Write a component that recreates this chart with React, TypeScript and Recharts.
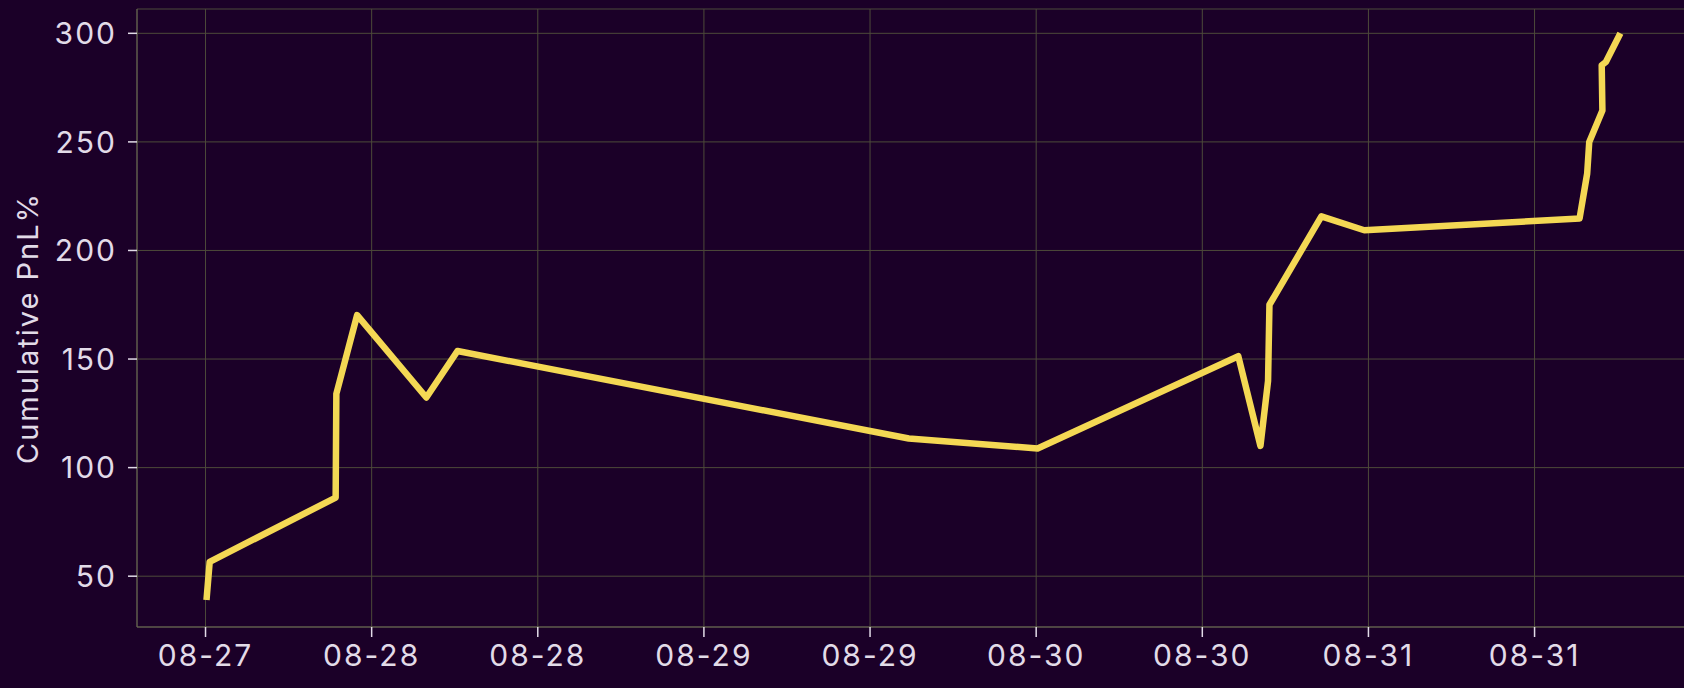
import React from 'react';
import {
  LineChart,
  Line,
  XAxis,
  YAxis,
  CartesianGrid,
} from 'recharts';

// hours counted from 08-27 00:00
const hours = [
  12.07, 12.3, 21.4, 21.45, 22.95, 27.95, 30.2, 62.8, 72.1, 86.6, 88.2, 88.75,
  88.85, 92.6, 95.7, 111.25, 111.8, 111.95, 112.9, 112.85, 113.15, 114.2,
];
const pnl = [
  39, 56.6, 86.2, 134, 170.2, 132.3, 153.7, 113.4, 108.8, 151.3, 110, 140,
  175, 215.7, 209.3, 214.7, 235.4, 250, 264.5, 285.3, 286.8, 300,
];

const tickHours = [12, 24, 36, 48, 60, 72, 84, 96, 108];
const tickLabels = ['08-27', '08-28', '08-28', '08-29', '08-29', '08-30', '08-30', '08-31', '08-31'];
const yTicks = [50, 100, 150, 200, 250, 300];

const data = hours.map((h, i) => ({ h, pnl: pnl[i] }));

const BG = '#1b0028';
const GRID = '#4d4a3a';
const SPINE = '#6a6656';
const TEXT = '#e2dbe8';
const FONT = 'Inter, "Noto Sans", sans-serif';

export default function App() {
  const tickStyle = { fill: TEXT, fontSize: 30, fontFamily: FONT, letterSpacing: 2 };

  return (
    <div style={{ width: 1684, height: 688, overflow: 'hidden', background: BG }}>
      <style>{`body{margin:0}`}</style>
      <LineChart
        width={1700}
        height={688}
        data={data}
        margin={{ top: 9, right: 9, bottom: 0, left: 0 }}
      >
        <CartesianGrid stroke={GRID} strokeWidth={1} />
        <XAxis
          dataKey="h"
          type="number"
          domain={[7.05, 119.3]}
          ticks={tickHours}
          tickFormatter={(v: number) => tickLabels[tickHours.indexOf(v)] ?? ''}
          allowDataOverflow
          height={61}
          tickSize={10}
          tickMargin={8}
          tick={tickStyle}
          axisLine={{ stroke: SPINE }}
          tickLine={{ stroke: TEXT, strokeWidth: 1.5 }}
        />
        <XAxis
          xAxisId="top"
          orientation="top"
          dataKey="h"
          type="number"
          domain={[7.05, 119.3]}
          height={0}
          tick={false}
          tickLine={false}
          axisLine={{ stroke: SPINE }}
        />
        <YAxis
          type="number"
          domain={[26.6, 311.2]}
          ticks={yTicks}
          allowDataOverflow
          width={137}
          tickSize={9}
          tickMargin={11}
          tick={tickStyle}
          axisLine={{ stroke: SPINE }}
          tickLine={{ stroke: TEXT, strokeWidth: 1.5 }}
          label={{
            content: () => (
              <text
                x={27}
                y={328}
                transform="rotate(-90, 27, 328)"
                textAnchor="middle"
                dominantBaseline="central"
                fill={TEXT}
                fontSize={29}
                fontFamily={FONT}
                letterSpacing={2}
              >
                Cumulative PnL%
              </text>
            ),
          }}
        />
        <Line
          type="linear"
          dataKey="pnl"
          stroke="#f4d854"
          strokeWidth={6.5}
          strokeLinejoin="round"
          strokeLinecap="butt"
          dot={false}
          activeDot={false}
          isAnimationActive={false}
        />
      </LineChart>
    </div>
  );
}
